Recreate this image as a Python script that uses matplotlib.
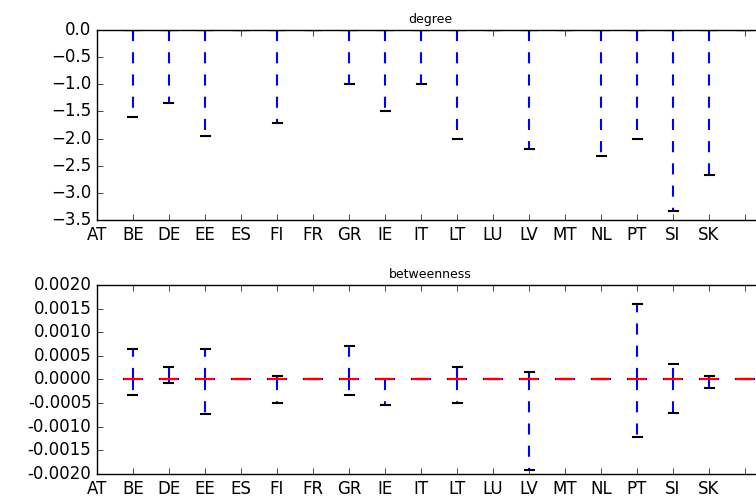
import matplotlib
matplotlib.use('Agg')
import matplotlib.pyplot as plt
from matplotlib.ticker import FormatStrFormatter

plt.style.use('classic')

countries = ['AT', 'BE', 'DE', 'EE', 'ES', 'FI', 'FR', 'GR', 'IE', 'IT',
             'LT', 'LU', 'LV', 'MT', 'NL', 'PT', 'SI', 'SK']

# whisker ends for each box (boxes themselves collapse to zero)
degree_low = [-1.60, -1.34, -1.95, 0.0, -1.72, 0.0, -1.0, -1.50, -1.0,
              -2.0, 0.0, -2.20, 0.0, -2.33, -2.0, -3.33, -2.67, 0.0]
degree_high = [0.0] * 18

betw_low = [-0.00032, -0.00007, -0.00074, 0.0, -0.00049, 0.0, -0.00033,
            -0.00054, 0.0, -0.00050, 0.0, -0.00191, 0.0, 0.0, -0.00121,
            -0.00070, -0.00018, 0.0]
betw_high = [0.00065, 0.000265, 0.00064, 0.0, 0.00007, 0.0, 0.00071,
             0.0, 0.0, 0.00027, 0.0, 0.000165, 0.0, 0.0, 0.0016,
             0.00033, 0.00007, 0.0]


def make_stats(low, high):
    return [dict(med=0.0, q1=0.0, q3=0.0, whislo=lo, whishi=hi, fliers=[])
            for lo, hi in zip(low, high)]


fig = plt.figure(figsize=(7.56, 4.96), dpi=100)
fig.patch.set_facecolor('white')

ax1 = fig.add_axes([0.1283, 0.5565, 0.881, 0.383])
ax2 = fig.add_axes([0.1283, 0.0444, 0.881, 0.381])

positions = list(range(1, len(countries) + 1))

for ax, low, high, title, ylim in [
        (ax1, degree_low, degree_high, 'degree', (-3.5, 0.0)),
        (ax2, betw_low, betw_high, 'betweenness', (-0.002, 0.002))]:
    ax.bxp(make_stats(low, high), positions=positions, widths=0.5,
           showfliers=False,
           boxprops=dict(color='b', linewidth=1.5),
           whiskerprops=dict(color='b', linewidth=1.5, linestyle=(0, (8, 8))),
           capprops=dict(color='k', linewidth=1.5),
           medianprops=dict(color='r', linewidth=1.5))
    ax.set_xticks(range(len(countries) + 1))
    ax.set_xticklabels(countries + [''])
    ax.set_xlim(0, len(countries) + 0.5)
    ax.set_ylim(*ylim)
    ax.set_title(title, fontsize=9)

ax2.set_yticks([-0.002, -0.0015, -0.001, -0.0005, 0.0, 0.0005, 0.001,
                0.0015, 0.002])
ax2.yaxis.set_major_formatter(FormatStrFormatter('%.4f'))

fig.savefig('out.png', dpi=100, facecolor='white')
